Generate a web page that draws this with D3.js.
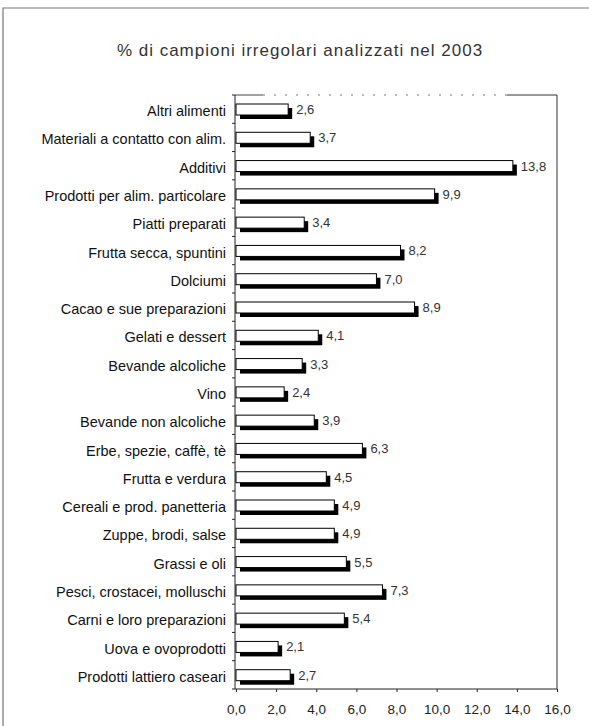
<!DOCTYPE html>
<html>

<head>
  <meta charset="utf-8">
  <title>% di campioni irregolari analizzati nel 2003</title>
  <style>
    body {
      margin: 0;
      background: #fff;
    }

    svg {
      display: block;
      font-family: "Liberation Sans", Arial, sans-serif;
    }

    .cat-label {
      font-size: 14.5px;
      fill: #111;
    }

    .val-label {
      font-size: 13px;
      fill: #333;
    }

    .x-axis text {
      font-size: 13.5px;
      fill: #222;
      font-family: "Liberation Sans", Arial, sans-serif;
    }
  </style>
</head>

<body>
  <svg width="589" height="726"></svg>

  <script src="https://cdn.jsdelivr.net/npm/d3@7"></script>
  <script>
    // categories top to bottom, as in the scanned chart
    var categories = [
      'Altri alimenti',
      'Materiali a contatto con alim.',
      'Additivi',
      'Prodotti per alim. particolare',
      'Piatti preparati',
      'Frutta secca, spuntini',
      'Dolciumi',
      'Cacao e sue preparazioni',
      'Gelati e dessert',
      'Bevande alcoliche',
      'Vino',
      'Bevande non alcoliche',
      'Erbe, spezie, caffè, tè',
      'Frutta e verdura',
      'Cereali e prod. panetteria',
      'Zuppe, brodi, salse',
      'Grassi e oli',
      'Pesci, crostacei, molluschi',
      'Carni e loro preparazioni',
      'Uova e ovoprodotti',
      'Prodotti lattiero caseari'
    ];
    var values = [2.6, 3.7, 13.8, 9.9, 3.4, 8.2, 7.0, 8.9, 4.1, 3.3, 2.4, 3.9, 6.3, 4.5, 4.9, 4.9, 5.5, 7.3, 5.4, 2.1, 2.7];
    var xTicks = [0, 2, 4, 6, 8, 10, 12, 14, 16];
    var title = '% di campioni irregolari analizzati nel 2003';

    var svg = d3.select('svg');
    var fmt = function(v) { return d3.format('.1f')(v).replace('.', ','); };

    // plot area (note: "top" is a reserved window global, so use plot* names)
    var plotLeft = 235, plotRight = 557, plotTop = 95, plotBottom = 689;

    var x = d3.scaleLinear().domain([0, 16]).range([plotLeft + 1, plotRight]);
    var y = d3.scaleBand().domain(categories).range([plotTop, plotBottom]);

    // scanned page border (top and left only)
    svg.append('path')
      .attr('d', 'M3,726 L3,8 L589,8')
      .attr('fill', 'none')
      .attr('stroke', '#777')
      .attr('stroke-width', 1.2);

    svg.append('text')
      .attr('x', 300)
      .attr('y', 56)
      .attr('text-anchor', 'middle')
      .style('font-size', '17px')
      .style('letter-spacing', '1px')
      .style('fill', '#333')
      .text(title);

    // frame of plot area: top line is patchy in the scan
    svg.append('line')
      .attr('x1', plotLeft).attr('x2', plotLeft + 28).attr('y1', plotTop).attr('y2', plotTop)
      .attr('stroke', '#444');
    svg.append('line')
      .attr('x1', plotLeft + 28).attr('x2', plotRight - 50).attr('y1', plotTop).attr('y2', plotTop)
      .attr('stroke', '#777').attr('stroke-dasharray', '2,9');
    svg.append('line')
      .attr('x1', plotRight - 50).attr('x2', plotRight).attr('y1', plotTop).attr('y2', plotTop)
      .attr('stroke', '#333');
    svg.append('line')
      .attr('x1', plotRight).attr('x2', plotRight).attr('y1', plotTop).attr('y2', plotBottom)
      .attr('stroke', '#333');

    // left axis with ticks at band boundaries
    svg.append('line')
      .attr('x1', plotLeft).attr('x2', plotLeft).attr('y1', plotTop).attr('y2', plotBottom)
      .attr('stroke', '#222');
    svg.selectAll('.ytick')
      .data(d3.range(categories.length + 1))
      .join('line')
      .attr('class', 'ytick')
      .attr('x1', plotLeft - 3).attr('x2', plotLeft)
      .attr('y1', function(i) { return plotTop + i * y.step(); })
      .attr('y2', function(i) { return plotTop + i * y.step(); })
      .attr('stroke', '#222');

    // bottom axis
    var xAxis = d3.axisBottom(x)
      .tickValues(xTicks)
      .tickFormat(fmt)
      .tickSize(3)
      .tickPadding(12);
    var gx = svg.append('g')
      .attr('class', 'x-axis')
      .attr('transform', 'translate(0,' + plotBottom + ')')
      .call(xAxis);
    gx.select('.domain').attr('stroke', '#222').attr('d', 'M' + plotLeft + ',0H' + plotRight);
    gx.selectAll('.tick line').attr('stroke', '#222');

    var barH = 11, off = 4, pad = 9;

    var rows = svg.selectAll('.row')
      .data(categories)
      .join('g')
      .attr('class', 'row')
      .attr('transform', function(d) { return 'translate(0,' + y(d) + ')'; });

    // shadow
    rows.append('rect')
      .attr('x', x(0) + off)
      .attr('y', pad + off)
      .attr('width', function(d, i) { return x(values[i]) - x(0); })
      .attr('height', barH)
      .attr('fill', '#000');

    // white bar
    rows.append('rect')
      .attr('x', x(0))
      .attr('y', pad)
      .attr('width', function(d, i) { return x(values[i]) - x(0); })
      .attr('height', barH)
      .attr('fill', '#fff')
      .attr('stroke', '#000')
      .attr('stroke-width', 1);

    rows.append('text')
      .attr('class', 'val-label')
      .attr('x', function(d, i) { return x(values[i]) + off + 4; })
      .attr('y', pad + barH / 2)
      .attr('dy', '0.35em')
      .text(function(d, i) { return fmt(values[i]); });

    rows.append('text')
      .attr('class', 'cat-label')
      .attr('x', plotLeft - 9)
      .attr('y', y.bandwidth() / 2 + 2)
      .attr('dy', '0.35em')
      .attr('text-anchor', 'end')
      .text(function(d) { return d; });
  </script>
</body>

</html>
